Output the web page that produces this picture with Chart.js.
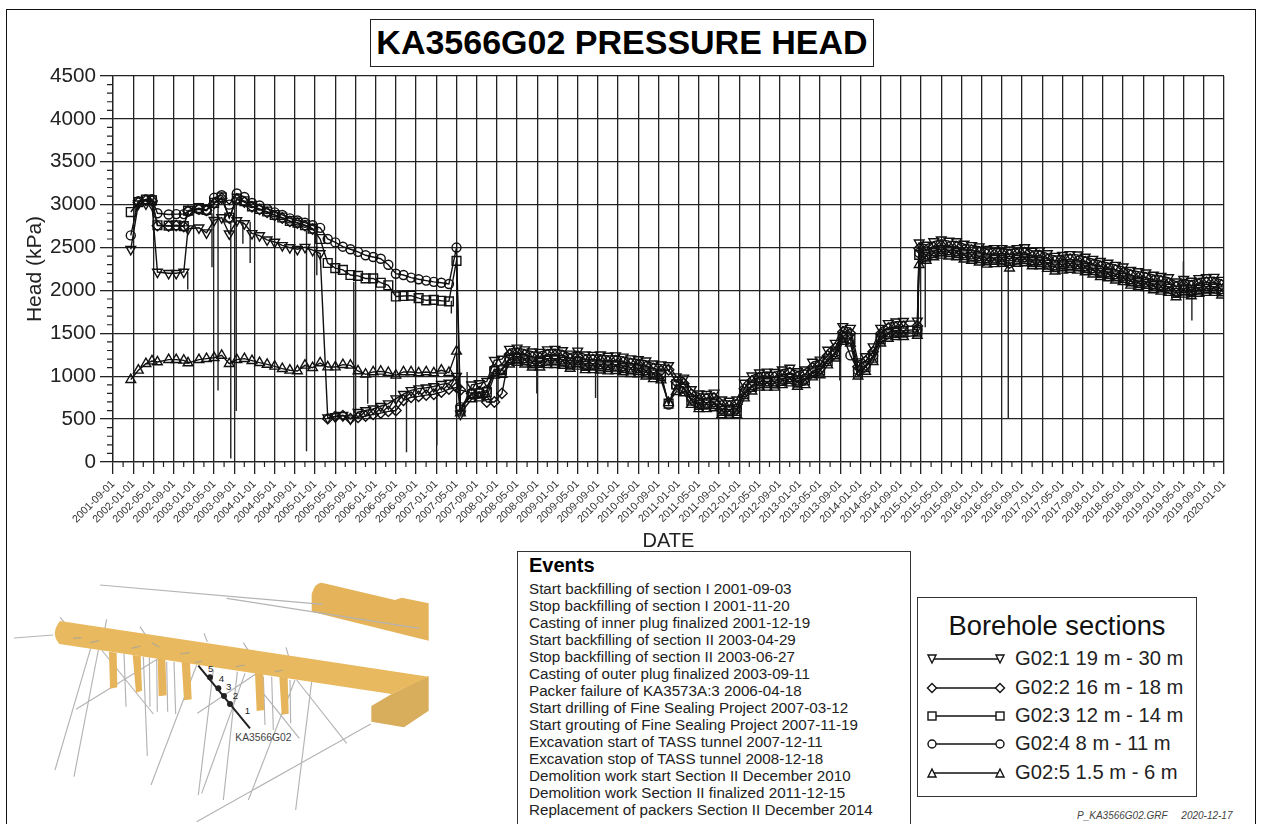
<!DOCTYPE html>
<html>
<head>
<meta charset="utf-8">
<title>KA3566G02 PRESSURE HEAD</title>
<script src="https://cdn.jsdelivr.net/npm/chart.js@4"></script>
<style>
  html, body { margin: 0; padding: 0; background: #fff; overflow: hidden; }
  body { width: 1263px; height: 824px; position: relative; font-family: "Liberation Sans", Arial, sans-serif; color: #111; }
  #frame { position: absolute; left: 6px; top: 9px; width: 1250px; height: 830px; border: 1.5px solid #111; box-sizing: border-box; }
  #chartWrap { position: absolute; left: 0; top: 0; width: 1263px; height: 553px; }
  #title { position: absolute; left: 370px; top: 19px; width: 504px; height: 48px; box-sizing: border-box; border: 1.3px solid #222; background: #fff;
    font-weight: bold; font-size: 34px; line-height: 45px; text-align: center; color: #000; white-space: nowrap; }
  #events { position: absolute; left: 517px; top: 551px; width: 394px; height: 290px; box-sizing: border-box; border: 1.3px solid #333; background: #fff; padding: 2px 0 0 11px; }
  #events h3 { margin: 0 0 3px 0; font-size: 20px; line-height: 23px; font-weight: bold; color: #000; }
  #events div { font-size: 15.2px; line-height: 17px; white-space: nowrap; color: #222; }
  #legend { position: absolute; left: 917px; top: 597px; width: 280px; height: 200px; box-sizing: border-box; border: 1.3px solid #333; background: #fff; }
  #legend h3 { position: absolute; left: 0; top: 13px; width: 100%; margin: 0; text-align: center; font-weight: normal; font-size: 27.3px; line-height: 30px; color: #111; }
  .row { position: absolute; left: 0; width: 100%; height: 28px; }
  .row svg { position: absolute; left: 8px; top: 0; }
  .row span { position: absolute; left: 97px; top: 1px; font-size: 20.2px; line-height: 24px; white-space: nowrap; color: #222; }
  #stamp { position: absolute; left: 1077px; top: 810px; font-size: 10px; line-height: 12px; font-style: italic; color: #444; white-space: pre; }
  #inset { position: absolute; left: 0; top: 570px; }
</style>
</head>
<body>
<div id="frame"></div>
<div id="chartWrap"><canvas id="headChart"></canvas></div>
<div id="title">KA3566G02 PRESSURE HEAD</div>

<svg id="inset" width="440" height="254" viewBox="0 0 1320 762">
  <g stroke="#b4b4b4" stroke-width="3.5" fill="none">
    <path d="M300 45L968 103M680 85L935 125"/>
    <path d="M42 204L160 195M180 142L200 165M320 148L312 190M420 170L440 200M612 190L622 215M730 218L745 242M858 232L866 260"/>
    <path d="M272 235L165 600M295 240L222 620M305 240L460 432M372 250L378 410M430 260L442 558M448 262L450 410M470 270L472 425M503 248L228 418M500 275L503 425M522 275L527 432"/>
    <path d="M590 285L453 645M640 300L595 675M795 293L592 430M735 310L605 670M712 305L670 690M885 330L745 690M790 370L898 505M890 330L1040 520M935 335L887 720M815 320L820 480M790 320L795 465M870 330L872 460M1112 462L590 755"/>
  </g>
  <g fill="#e6b45a">
    <path d="M327 245L350 248L352 352L330 356Z"/>
    <path d="M398 255L422 258L426 362L408 368Z"/>
    <path d="M473 265L496 268L500 376L476 379Z"/>
    <path d="M545 275L570 278L575 388L552 391Z"/>
    <path d="M765 310L790 313L793 420L770 423Z"/>
    <path d="M838 320L863 323L866 431L845 434Z"/>
    <path fill="#e4b35a" d="M935 72Q945 38 965 38L1185 90L1205 83L1286 100V212L935 125Z"/>
    <path fill="#d8ad5c" d="M1114 408L1175 372L1286 318V422L1212 472L1114 455Z"/>
    <path fill="#e9b95f" d="M180 153L1286 320L1175 372L178 222Q150 190 180 153Z"/>
  </g>
  <path d="M968 103L935 100M935 125L1258 175" stroke="#b4b4b4" stroke-width="3.5" fill="none"/>
  <g stroke="#b0a890" stroke-width="3.5" fill="none">
    <path d="M220 205L245 203M270 218L298 212M395 235L422 228M455 218L478 232M540 252L570 248M585 278L607 273M708 290L735 285M825 305L850 300"/>
  </g>
  <path d="M595 287L750 475" stroke="#222" stroke-width="6" fill="none"/>
  <g fill="#222">
    <circle cx="630" cy="322" r="9"/><circle cx="655" cy="355" r="9"/><circle cx="672" cy="378" r="9"/><circle cx="690" cy="402" r="9"/>
  </g>
  <g fill="#222" font-size="29" font-family="Liberation Sans">
    <text x="624" y="306">5</text><text x="656" y="336">4</text><text x="678" y="359">3</text><text x="698" y="386">2</text><text x="734" y="431">1</text>
    <text x="706" y="514" fill="#444" font-size="31">KA3566G02</text>
  </g>
</svg>

<div id="events"><h3>Events</h3></div>
<div id="legend"><h3>Borehole sections</h3></div>
<div id="stamp">P_KA3566G02.GRF     2020-12-17</div>

<script>
const tickLabels = [
  "2001-09-01", "2002-01-01", "2002-05-01", "2002-09-01", "2003-01-01", "2003-05-01", "2003-09-01", "2004-01-01",
  "2004-05-01", "2004-09-01", "2005-01-01", "2005-05-01", "2005-09-01", "2006-01-01", "2006-05-01", "2006-09-01",
  "2007-01-01", "2007-05-01", "2007-09-01", "2008-01-01", "2008-05-01", "2008-09-01", "2009-01-01", "2009-05-01",
  "2009-09-01", "2010-01-01", "2010-05-01", "2010-09-01", "2011-01-01", "2011-05-01", "2011-09-01", "2012-01-01",
  "2012-05-01", "2012-09-01", "2013-01-01", "2013-05-01", "2013-09-01", "2014-01-01", "2014-05-01", "2014-09-01",
  "2015-01-01", "2015-05-01", "2015-09-01", "2016-01-01", "2016-05-01", "2016-09-01", "2017-01-01", "2017-05-01",
  "2017-09-01", "2018-01-01", "2018-05-01", "2018-09-01", "2019-01-01", "2019-05-01", "2019-09-01", "2020-01-01"
];

// measurement times, decimal years
const sampleYears = [
  2001.96, 2002.085, 2002.21, 2002.31, 2002.40, 2002.585, 2002.71, 2002.835,
  2002.905, 2003.085, 2003.21, 2003.335, 2003.46, 2003.585, 2003.71, 2003.835,
  2003.96, 2004.085, 2004.21, 2004.335, 2004.46, 2004.585, 2004.71, 2004.835,
  2004.96, 2005.085, 2005.21, 2005.335, 2005.46, 2005.585, 2005.71, 2005.835,
  2005.96, 2006.085, 2006.21, 2006.335, 2006.46, 2006.585, 2006.71, 2006.835,
  2006.96, 2007.085, 2007.21, 2007.335, 2007.40, 2007.585, 2007.71, 2007.835,
  2007.96, 2008.085, 2008.21, 2008.335, 2008.46, 2008.585, 2008.71, 2008.835,
  2008.96, 2009.085, 2009.21, 2009.335, 2009.46, 2009.585, 2009.71, 2009.835,
  2009.96, 2010.085, 2010.21, 2010.335, 2010.46, 2010.585, 2010.71, 2010.835,
  2010.96, 2011.085, 2011.21, 2011.335, 2011.46, 2011.585, 2011.71, 2011.835,
  2011.96, 2012.085, 2012.21, 2012.335, 2012.46, 2012.585, 2012.71, 2012.835,
  2012.96, 2013.085, 2013.21, 2013.335, 2013.46, 2013.585, 2013.71, 2013.835,
  2013.96, 2014.085, 2014.21, 2014.335, 2014.46, 2014.585, 2014.71, 2014.94,
  2014.97, 2015.085, 2015.21, 2015.335, 2015.46, 2015.585, 2015.71, 2015.835,
  2015.96, 2016.085, 2016.21, 2016.335, 2016.46, 2016.585, 2016.71, 2016.835,
  2016.96, 2017.085, 2017.21, 2017.335, 2017.46, 2017.585, 2017.71, 2017.835,
  2017.96, 2018.085, 2018.21, 2018.335, 2018.46, 2018.585, 2018.71, 2018.835,
  2018.96, 2019.085, 2019.21, 2019.335, 2019.46, 2019.585, 2019.71, 2019.835,
  2019.96
];

const g02_1 = [
  2480, 3010, 3010, 3000, 2215, 2200, 2200, 2215, 2720, 2730, 2673, 2817, 2850, 2660, 2815, 2780,
  2665, 2640, 2590, 2565, 2525, 2500, 2480, 2505, 2470, 2430, 515, 530, 545, 505, 580, 600,
  620, 650, 680, 738, 790, 835, 855, 865, 880, 905, 920, 1000, 560, 900, 915, 940,
  1185, 1200, 1315, 1330, 1310, 1285, 1280, 1310, 1315, 1300, 1260, 1295, 1250, 1245, 1250, 1235,
  1240, 1225, 1205, 1195, 1180, 1145, 1135, 1125, 995, 980, 845, 795, 790, 805, 725, 710,
  725, 920, 1005, 1040, 1050, 1045, 1075, 1095, 1055, 1075, 1165, 1190, 1305, 1385, 1580, 1560,
  1170, 1230, 1345, 1560, 1615, 1635, 1640, 1645, 2555, 2530, 2570, 2590, 2575, 2570, 2540, 2525,
  2510, 2480, 2490, 2490, 2475, 2490, 2500, 2460, 2465, 2430, 2400, 2410, 2420, 2415, 2390, 2365,
  2340, 2320, 2295, 2275, 2235, 2220, 2205, 2180, 2165, 2150, 2100, 2130, 2110, 2140, 2150, 2155,
  2120
];
const g02_2 = [
  null, 3025, 3050, 3045, 2755, 2750, 2755, 2745, 2925, 2950, 2935, 3015, 3075, 2845, 3060, 3030,
  2975, 2945, 2910, 2875, 2845, 2805, 2785, 2755, 2715, null, 505, 530, 540, 505, 520, 535,
  555, 570, 590, 600, 720, 755, 765, 780, 790, 815, 850, 870, 840, 800, 820, 700,
  700, 800, 1255, 1270, 1250, 1225, 1215, 1250, 1245, 1240, 1205, 1230, 1190, 1195, 1180, 1175,
  1180, 1165, 1150, 1135, 1115, 1090, 1065, 1075, 935, 915, 790, 730, 740, 745, 660, 655,
  670, 855, 945, 985, 980, 990, 1010, 1040, 990, 1020, 1100, 1135, 1240, 1330, 1515, 1500,
  1110, 1175, 1285, 1495, 1560, 1570, 1580, 1585, 2490, 2465, 2505, 2525, 2510, 2510, 2475, 2470,
  2445, 2425, 2420, 2430, 2420, 2425, 2440, 2395, 2405, 2365, 2345, 2345, 2365, 2345, 2335, 2300,
  2280, 2255, 2240, 2210, 2180, 2150, 2150, 2115, 2110, 2085, 2045, 2065, 2055, 2075, 2095, 2085,
  2065
];
const g02_3 = [
  2914, 3030, 3060, 3050, 2760, 2755, 2760, 2750, 2930, 2960, 2940, 3020, 3085, 2850, 3070, 3040,
  2980, 2950, 2920, 2880, 2850, 2810, 2790, 2760, 2720, 2600, 2320, 2260, 2240, 2180, 2170, 2140,
  2140, 2090, 2060, 1930, 1935, 1940, 1910, 1885, 1890, 1880, 1873, 2345, 610, 790, 800, 815,
  1060, 1070, 1190, 1205, 1185, 1150, 1155, 1180, 1185, 1170, 1135, 1165, 1120, 1125, 1115, 1105,
  1115, 1095, 1080, 1070, 1045, 1020, 1000, 680, 905, 855, 715, 665, 670, 675, 595, 590,
  595, 790, 875, 915, 920, 915, 945, 970, 925, 950, 1035, 1065, 1175, 1255, 1450, 1430,
  1045, 1105, 1215, 1430, 1490, 1505, 1510, 1520, 2415, 2395, 2435, 2455, 2445, 2435, 2410, 2395,
  2375, 2350, 2355, 2360, 2345, 2360, 2365, 2330, 2330, 2300, 2270, 2280, 2290, 2280, 2260, 2235,
  2205, 2190, 2165, 2145, 2105, 2085, 2075, 2050, 2035, 2020, 1970, 2000, 1980, 2010, 2020, 2020,
  1990
];
const g02_4 = [
  2642, 3040, 3060, 3065, 2900, 2885, 2890, 2890, 2920, 2945, 2930, 3080, 3110, 3000, 3130, 3090,
  3020, 2990, 2950, 2910, 2880, 2840, 2815, 2790, 2760, 2730, 2600, 2560, 2510, 2480, 2450, 2410,
  2390, 2370, 2300, 2195, 2180, 2150, 2130, 2115, 2100, 2090, 2075, 2500, 640, 805, 810, 835,
  1080, 1085, 1210, 1230, 1210, 1175, 1175, 1205, 1205, 1195, 1160, 1185, 1145, 1145, 1140, 1130,
  1135, 1120, 1100, 1095, 1070, 1040, 1025, 670, 890, 875, 740, 690, 690, 700, 620, 610,
  620, 815, 895, 940, 940, 940, 970, 990, 950, 970, 1060, 1085, 1200, 1280, 1475, 1243,
  1068, 1125, 1240, 1455, 1510, 1530, 1530, 1545, 2440, 2420, 2460, 2480, 2470, 2460, 2435, 2420,
  2400, 2375, 2380, 2385, 2370, 2385, 2390, 2355, 2355, 2325, 2295, 2305, 2315, 2305, 2285, 2260,
  2230, 2215, 2190, 2170, 2130, 2110, 2100, 2075, 2060, 2045, 1995, 2025, 2005, 2035, 2045, 2045,
  2015
];
const g02_5 = [
  960, 1069, 1146, 1177, 1166, 1193, 1193, 1185, 1154, 1193, 1205, 1216, 1243, 1146, 1193, 1205,
  1181, 1158, 1138, 1115, 1088, 1069, 1061, 1127, 1100, 1154, 1107, 1107, 1135, 1127, 1061, 1022,
  1050, 1057, 1042, 1010, 1050, 1050, 1038, 1050, 1038, 1069, 1042, 1290, 570, 735, 745, 760,
  1010, 1020, 1140, 1160, 1140, 1105, 1105, 1135, 1135, 1125, 1090, 1115, 1075, 1075, 1070, 1060,
  1065, 1050, 1030, 1025, 1000, 970, 955, 690, 820, 805, 670, 620, 620, 630, 550, 545,
  550, 745, 825, 870, 870, 870, 900, 920, 880, 900, 990, 1015, 1130, 1210, 1405, 1385,
  1000, 1055, 1170, 1385, 1440, 1460, 1460, 1475, 2300, 2350, 2390, 2410, 2400, 2390, 2365, 2350,
  2330, 2305, 2310, 2315, 2260, 2315, 2320, 2285, 2285, 2255, 2225, 2235, 2245, 2235, 2215, 2190,
  2160, 2145, 2120, 2100, 2060, 2040, 2030, 2005, 1990, 1975, 1925, 1955, 1935, 1965, 1975, 1975,
  1945
];

// short pressure drops between the marked samples
const spikeYears = [2002.90, 2003.30, 2003.40, 2003.61, 2003.70, 2003.81, 2003.93, 2004.86, 2004.90, 2005.03, 2005.64,
  2005.87, 2006.51, 2007.01, 2007.25, 2007.51, 2008.02, 2008.66, 2009.63, 2013.66, 2015.07, 2016.44, 2019.33, 2019.47];
const spikeFrom = [2215, 2900, 3100, 2800, 3000, 2800, 2800, 2700, 2700, 2700, 2100,
  1030, 800, 800, 1880, 850, 1100, 1200, 1150, 1500, 2400, 2350, 2060, 2060];
const spikeTo = [2010, 2270, 835, 40, 595, 2545, 2320, 125, 3010, 2176, 520,
  680, 115, 195, 1730, 1050, 720, 800, 747, 950, 1570, 500, 2337, 1650];

const sectionLabels = ["G02:1 19 m - 30 m", "G02:2 16 m - 18 m", "G02:3 12 m - 14 m", "G02:4 8 m - 11 m", "G02:5 1.5 m - 6 m"];
const sectionValues = [g02_1, g02_2, g02_3, g02_4, g02_5];
const sectionMarkers = [
  { pointStyle: "triangle", rotation: 180, radius: 5.6 },
  { pointStyle: "rectRot", rotation: 0, radius: 5.2 },
  { pointStyle: "rect", rotation: 0, radius: 6.2 },
  { pointStyle: "circle", rotation: 0, radius: 4.5 },
  { pointStyle: "triangle", rotation: 0, radius: 5.6 }
];

const eventLines = [
  "Start backfilling of section I 2001-09-03",
  "Stop backfilling of section I 2001-11-20",
  "Casting of inner plug finalized 2001-12-19",
  "Start backfilling of section II 2003-04-29",
  "Stop backfilling of section II 2003-06-27",
  "Casting of outer plug finalized 2003-09-11",
  "Packer failure of KA3573A:3 2006-04-18",
  "Start drilling of Fine Sealing Project 2007-03-12",
  "Start grouting of Fine Sealing Project 2007-11-19",
  "Excavation start of TASS tunnel 2007-12-11",
  "Excavation stop of TASS tunnel 2008-12-18",
  "Demolition work start Section II December 2010",
  "Demolition work Section II finalized 2011-12-15",
  "Replacement of packers Section II December 2014"
];

function labelToYear(label) {
  const parts = label.split("-");
  return Number(parts[0]) + (Number(parts[1]) - 1) / 12;
}

const tickYears = tickLabels.map(labelToYear);

function buildSpikePoints() {
  const points = [];
  spikeYears.forEach((year, i) => {
    points.push({ x: year, y: spikeFrom[i] });
    points.push({ x: year, y: spikeTo[i] });
    points.push({ x: year, y: null });
  });
  return points;
}

function buildDatasets() {
  const datasets = sectionLabels.map((label, s) => ({
    label,
    data: sampleYears.map((x, i) => ({ x, y: sectionValues[s][i] })),
    borderColor: "#111",
    borderWidth: 1.4,
    tension: 0,
    spanGaps: false,
    pointStyle: sectionMarkers[s].pointStyle,
    pointRotation: sectionMarkers[s].rotation,
    pointRadius: sectionMarkers[s].radius,
    pointBackgroundColor: "rgba(0,0,0,0)",
    pointBorderColor: "#111",
    pointBorderWidth: 1.4
  }));
  datasets.push({
    label: "spikes",
    data: buildSpikePoints(),
    borderColor: "#222",
    borderWidth: 1.4,
    spanGaps: false,
    pointRadius: 0
  });
  return datasets;
}

// chart.js has no minor ticks on a linear axis, so stroke them from the scales
const minorTicks = {
  id: "minorTicks",
  afterDraw(chart) {
    const ctx = chart.ctx;
    const xScale = chart.scales.x;
    const yScale = chart.scales.y;
    ctx.save();
    ctx.strokeStyle = "#222";
    ctx.lineWidth = 1.2;
    ctx.beginPath();
    for (let i = 0; i < tickYears.length - 1; i++) {
      const px = xScale.getPixelForValue((tickYears[i] + tickYears[i + 1]) / 2);
      ctx.moveTo(px, chart.chartArea.bottom);
      ctx.lineTo(px, chart.chartArea.bottom + 5);
    }
    for (let v = 0; v < 4500; v += 100) {
      if (v % 500 === 0) continue;
      const py = yScale.getPixelForValue(v);
      ctx.moveTo(chart.chartArea.left - 6, py);
      ctx.lineTo(chart.chartArea.left, py);
    }
    ctx.stroke();
    ctx.restore();
  }
};

function renderChart() {
  new Chart(document.getElementById("headChart"), {
    type: "line",
    data: { datasets: buildDatasets() },
    plugins: [minorTicks],
    options: {
      responsive: true,
      maintainAspectRatio: false,
      animation: false,
      layout: { padding: { left: 23, right: 39, top: 76, bottom: 0 } },
      plugins: { legend: { display: false }, tooltip: { enabled: false } },
      scales: {
        x: {
          type: "linear",
          min: tickYears[0],
          max: tickYears[tickYears.length - 1],
          afterBuildTicks: (scale) => { scale.ticks = tickYears.map((value) => ({ value })); },
          afterFit: (scale) => { scale.height = 91; },
          grid: { color: "#222", lineWidth: 1.3, tickLength: 12, tickColor: "#222" },
          border: { color: "#222", width: 1.3 },
          ticks: {
            autoSkip: false,
            maxRotation: 45,
            minRotation: 45,
            padding: 4,
            color: "#333",
            font: { family: "Liberation Sans", size: 10.7 },
            callback: (value, index) => tickLabels[index]
          },
          title: {
            display: true,
            text: "DATE",
            color: "#222",
            padding: 0,
            font: { family: "Liberation Sans", size: 20 }
          }
        },
        y: {
          min: 0,
          max: 4500,
          afterFit: (scale) => { scale.width = 90; },
          grid: { color: "#222", lineWidth: 1.3, tickLength: 13, tickColor: "#222" },
          border: { color: "#222", width: 1.3 },
          ticks: {
            stepSize: 500,
            padding: 4,
            color: "#222",
            font: { family: "Liberation Sans", size: 20.7 },
            callback: (value) => String(value)
          },
          title: {
            display: true,
            text: "Head (kPa)",
            color: "#222",
            padding: 0,
            font: { family: "Liberation Sans", size: 21 }
          }
        }
      }
    }
  });
}

function markerSvg(kind, cx, cy) {
  if (kind === 0) return `<path d="M${cx - 4} ${cy - 4}H${cx + 4}L${cx} ${cy + 4}Z"/>`;
  if (kind === 1) return `<path d="M${cx} ${cy - 4.5}L${cx + 4.5} ${cy}L${cx} ${cy + 4.5}L${cx - 4.5} ${cy}Z"/>`;
  if (kind === 2) return `<rect x="${cx - 4}" y="${cy - 4}" width="8" height="8"/>`;
  if (kind === 3) return `<circle cx="${cx}" cy="${cy}" r="4"/>`;
  return `<path d="M${cx - 4} ${cy + 4}H${cx + 4}L${cx} ${cy - 4}Z"/>`;
}

function renderLegend() {
  const legend = document.getElementById("legend");
  const rowTops = [47, 76, 104, 132, 161];
  sectionLabels.forEach((label, i) => {
    const row = document.createElement("div");
    row.className = "row";
    row.style.top = rowTops[i] + "px";
    row.innerHTML =
      `<svg width="80" height="28" fill="#fff" stroke="#111" stroke-width="1.4">` +
      `<path d="M6 14H74"/>` + markerSvg(i, 6, 14) + markerSvg(i, 74, 14) + `</svg>` +
      `<span>${label}</span>`;
    legend.appendChild(row);
  });
}

function renderEvents() {
  const box = document.getElementById("events");
  eventLines.forEach((line) => {
    const div = document.createElement("div");
    div.textContent = line;
    box.appendChild(div);
  });
}

renderChart();
renderLegend();
renderEvents();
</script>
</body>
</html>
